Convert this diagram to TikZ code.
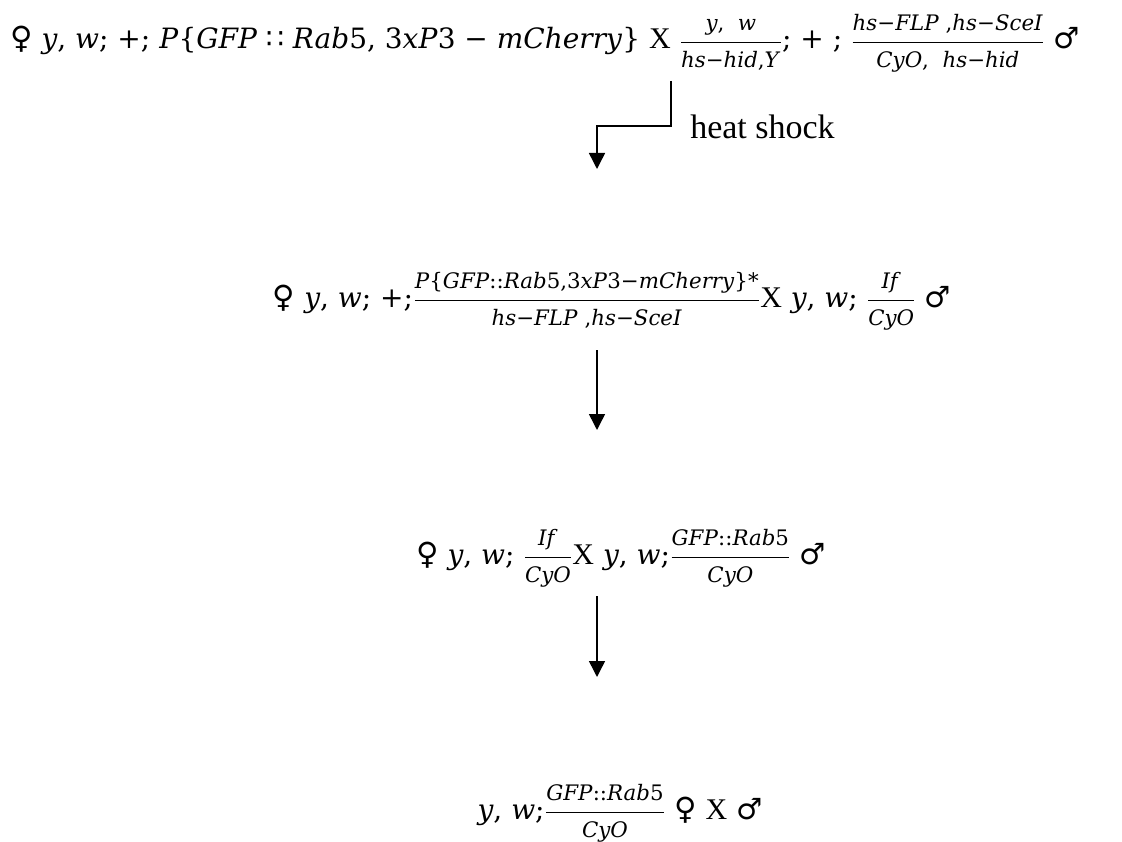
\documentclass[tikz,border=0pt]{standalone}
\usepackage{amsmath}
\usepackage{fontspec}
\usetikzlibrary{arrows.meta}
\setmainfont{DejaVu Serif}
\newfontfamily\tnr{Liberation Serif}
\newfontfamily\sym{DejaVu Sans}
% italic letters, upright digits and punctuation
\newcommand\iv[1]{\textit{#1}}
\newcommand\smallsz{\fontsize{16}{19}\selectfont}
\newcommand\bigsz{\fontsize{21}{26}\selectfont}
\newcommand\fr[2]{\ensuremath{\genfrac{}{}{0.8pt}{0}{\hbox{\smallsz #1}}{\hbox{\smallsz #2}}}}
\newcommand\female{{\sym\fontsize{23}{26}\selectfont ♀}}
\newcommand\male{{\sym\fontsize{22}{26}\selectfont ♂}}
\newcommand\cross{{\tnr\fontsize{22.5}{26}\selectfont X}}
\tikzset{
  genotype/.style={inner sep=0pt, anchor=base, font=\bigsz},
  cross arrow/.style={line width=1.1pt, -{Triangle[length=12pt,width=12pt]}},
  note/.style={inner sep=0pt, anchor=base west, font=\tnr\fontsize{25.5}{30}\selectfont}
}
\begin{document}
\begin{tikzpicture}[x=0.75pt, y=-0.75pt]
\useasboundingbox (0,0) rectangle (1122,842);
% parental cross
\node[genotype] (l1) at (545,49) {\female\ \iv{y}, \iv{w}; +; \iv{P}\{\iv{GFP} {\sym ∷} \iv{Rab}5, 3\iv{xP}3 − \iv{mCherry}\} \cross\ \fr{\iv{y},\ \ \iv{w}}{\iv{hs}−\iv{hid},\iv{Y}}; + ; \fr{\iv{hs}−\iv{FLP} ,\iv{hs}−\iv{SceI}}{\iv{CyO},\ \ \iv{hs}−\iv{hid}} \male};
% F1 cross
\node[genotype] (l2) at (612,307) {\female\ \iv{y}, \iv{w}; +;\fr{\iv{P}\{\iv{GFP}::\iv{Rab}5,3\iv{xP}3−\iv{mCherry}\}*}{\iv{hs}−\iv{FLP} ,\iv{hs}−\iv{SceI}}\cross\ \iv{y}, \iv{w}; \fr{\iv{If}}{\iv{CyO}} \male};
% balancing cross
\node[genotype] (l3) at (621,564) {\female\ \iv{y}, \iv{w}; \fr{\iv{If}}{\iv{CyO}}\cross\ \iv{y}, \iv{w};\fr{\iv{GFP}::\iv{Rab}5}{\iv{CyO}} \male};
% stock
\node[genotype] (l4) at (620,819) {\iv{y}, \iv{w};\fr{\iv{GFP}::\iv{Rab}5}{\iv{CyO}} \female\ \cross\ \male};
% connectors
\coordinate (a1s) at (671,81);
\coordinate (a1k) at (671,126);
\coordinate (a1j) at (597,126);
\coordinate (a1e) at (597,169);
\draw[cross arrow] (a1s) -- (a1k) -- (a1j) -- (a1e);
\node[note] (hs) at (690,138) {heat shock};
\coordinate (a2s) at (597,350);
\coordinate (a2e) at (597,430);
\draw[cross arrow] (a2s) -- (a2e);
\coordinate (a3s) at (597,596);
\coordinate (a3e) at (597,677);
\draw[cross arrow] (a3s) -- (a3e);
\end{tikzpicture}
\end{document}
